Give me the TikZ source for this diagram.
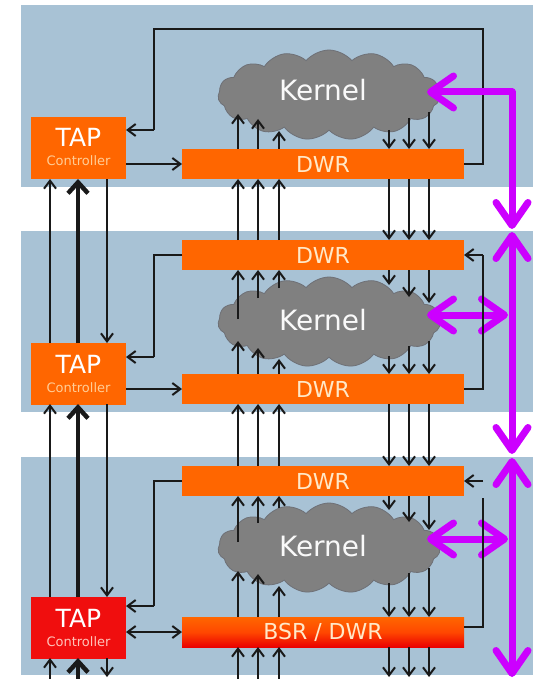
\documentclass[tikz,border=0pt]{standalone}
\usepackage{fontspec}
\setmainfont{DejaVu Sans}
\usetikzlibrary{arrows.meta,shapes.symbols}
\definecolor{panelblue}{RGB}{168,194,213}
\definecolor{tapor}{RGB}{255,102,0}
\definecolor{tapred}{RGB}{240,14,14}
\definecolor{dwrtext}{RGB}{255,232,200}
\definecolor{ctltext}{RGB}{255,205,150}
\definecolor{ctlred}{RGB}{255,195,185}
\definecolor{kgray}{RGB}{128,128,128}
\definecolor{kedge}{RGB}{110,112,118}
\definecolor{magv}{RGB}{204,0,255}
\tikzset{
  panel/.style={fill=panelblue, draw=none},
  tapbox/.style={fill=tapor, inner sep=0pt, outer sep=0pt, anchor=north west,
    minimum width=95pt, minimum height=62pt},
  dwrbox/.style={fill=tapor, inner sep=0pt, outer sep=0pt, anchor=north west,
    minimum width=282pt, minimum height=30pt, text=dwrtext,
    font=\fontsize{22}{22}\selectfont},
  taptitle/.style={anchor=base, inner sep=0pt, text=white, font=\fontsize{25}{25}\selectfont},
  tapsub/.style={anchor=base, inner sep=0pt, text=ctltext, font=\fontsize{13}{13}\selectfont},
  kcloud/.style={cloud, cloud puffs=15, cloud puff arc=100, aspect=2.5,
    minimum width=222pt, minimum height=90pt, inner sep=0pt,
    fill=kgray, draw=kedge, line width=0.8pt},
  ktext/.style={inner sep=0pt, text=white!95!gray, font=\fontsize{28}{28}\selectfont},
  sig/.style={line width=2pt, draw=black!90, -{Straight Barb[length=8pt,width=12pt]}},
  sigplain/.style={line width=2pt, draw=black!90},
  sigboth/.style={line width=2pt, draw=black!90, {Straight Barb[length=8pt,width=12pt]}-{Straight Barb[length=8pt,width=12pt]}},
  sigthick/.style={line width=4.5pt, draw=black!90, -{Straight Barb[length=11pt,width=20pt]}},
  mag/.style={line width=7pt, draw=magv, line cap=round, line join=round,
    {Straight Barb[length=23pt,width=32pt,round]}-{Straight Barb[length=23pt,width=32pt,round]}},
}
\begin{document}
\begin{tikzpicture}[x=1pt,y=-1pt]
\useasboundingbox[fill=white] (0,0) rectangle (533,679);
% panels
\path[panel] (21,5) rectangle (533,187);
\path[panel] (21,231) rectangle (533,412);
\path[panel] (21,457) rectangle (533,675);
% kernels
\node[kcloud] (k1) at (329,95) {};
\node[kcloud] (k2) at (329,322) {};
\node[kcloud] (k3) at (329,548) {};
\node[ktext] (k1t) at (323,90) {Kernel};
\node[ktext] (k2t) at (323,320) {Kernel};
\node[ktext] (k3t) at (323,546) {Kernel};
% TAP controllers
\node[tapbox] (tap1) at (31,117) {};
\node[tapbox] (tap2) at (31,343) {};
\node[tapbox, fill=tapred] (tap3) at (31,597) {};
\node[taptitle] (tap1t) at (78.5,147) {TAP};
\node[tapsub] (tap1s) at (78.5,166) {Controller};
\node[taptitle] (tap2t) at (78.5,373) {TAP};
\node[tapsub] (tap2s) at (78.5,392) {Controller};
\node[taptitle] (tap3t) at (78.5,627) {TAP};
\node[tapsub, text=ctlred] (tap3s) at (78.5,646) {Controller};
% registers
\node[dwrbox] (dwr1) at (182,149) {DWR};
\node[dwrbox] (dwr2a) at (182,240) {DWR};
\node[dwrbox] (dwr2b) at (182,374) {DWR};
\node[dwrbox] (dwr3a) at (182,466) {DWR};
\node[dwrbox, top color=tapor, bottom color=red!92!black, middle color=tapor!70!red] (bsr) at (182,617) {BSR / DWR};
% free ends
\coordinate (bot) at (0,679);
% ---- panel 1 signals
\draw[sigplain] (dwr1.east) -- (483,164) -- (483,29) -- (154,29) -- (154,130);
\draw[sig] (154,130) -- (tap1.east |- 0,130);
\draw[sig] (tap1.east |- dwr1.west) -- (dwr1.west);
\foreach \x/\t in {238/114,258/119,279/131} \draw[sig] (\x,149) -- (\x,\t);
\foreach \x/\s in {389/130,409/118,429/112} \draw[sig] (\x,\s) -- (\x,149);
% magenta 1
\draw[mag] (427,92) -- (512,92) -- (512,229);
% ---- between 1 and 2
\foreach \x in {238,258,279} \draw[sig] (\x,240) -- (\x,179);
\foreach \x in {389,409,429} \draw[sig] (\x,179) -- (\x,240);
\draw[sig] (50,343) -- (50,179);
\draw[sigthick] (78,343) -- (78,179);
\draw[sig] (107,179) -- (107,343);
% ---- panel 2
\draw[mag] (512,232) -- (512,454);
\draw[mag] (427,315) -- (508,315);
\draw[sigplain] (dwr2a.west) -- (154,255) -- (154,357);
\draw[sig] (154,357) -- (tap2.east |- 0,357);
\draw[sigplain] (dwr2b.east) -- (483,389) -- (483,255);
\draw[sig] (483,255) -- (dwr2a.east);
\draw[sig] (tap2.east |- dwr2b.west) -- (dwr2b.west);
\foreach \x/\s in {238/319,258/298,279/288} \draw[sig] (\x,\s) -- (\x,270);
\foreach \x/\t in {389/285,409/297,429/303} \draw[sig] (\x,270) -- (\x,\t);
\foreach \x/\t in {238/341,258/348,279/359} \draw[sig] (\x,374) -- (\x,\t);
\foreach \x/\s in {389/356,409/346,429/341} \draw[sig] (\x,\s) -- (\x,374);
% ---- between 2 and 3
\foreach \x in {238,258,279} \draw[sig] (\x,466) -- (\x,404);
\foreach \x in {389,409,429} \draw[sig] (\x,404) -- (\x,466);
\draw[sig] (50,597) -- (50,404);
\draw[sigthick] (78,597) -- (78,404);
\draw[sig] (107,404) -- (107,597);
% ---- panel 3
\draw[mag] (512,458) -- (512,677);
\draw[mag] (427,539) -- (508,539);
\draw[sigplain] (dwr3a.west) -- (154,481) -- (154,606);
\draw[sig] (154,606) -- (tap3.east |- 0,606);
\draw[sigplain] (bsr.east |- 0,627) -- (483,627) -- (483,498);
\draw[sig] (483,481) -- (dwr3a.east);
\draw[sigboth] (tap3.east |- bsr.west) -- (bsr.west);
\foreach \x/\s in {238/542,258/523,279/508} \draw[sig] (\x,\s) -- (\x,496);
\foreach \x/\t in {389/510,409/522,429/530} \draw[sig] (\x,496) -- (\x,\t);
\foreach \x/\t in {238/571,258/574,279/586} \draw[sig] (\x,617) -- (\x,\t);
\foreach \x/\s in {389/583,409/573,429/568} \draw[sig] (\x,\s) -- (\x,617);
% ---- below panel 3
\foreach \x in {238,258,279} \draw[sig] (\x,0 |- bot) -- (\x,647);
\foreach \x in {389,409,429} \draw[sig] (\x,647) -- (\x,677);
\draw[sig] (50,0 |- bot) -- (50,658);
\draw[sigthick] (78,0 |- bot) -- (78,658);
\draw[sig] (107,658) -- (107,677);
\end{tikzpicture}
\end{document}
